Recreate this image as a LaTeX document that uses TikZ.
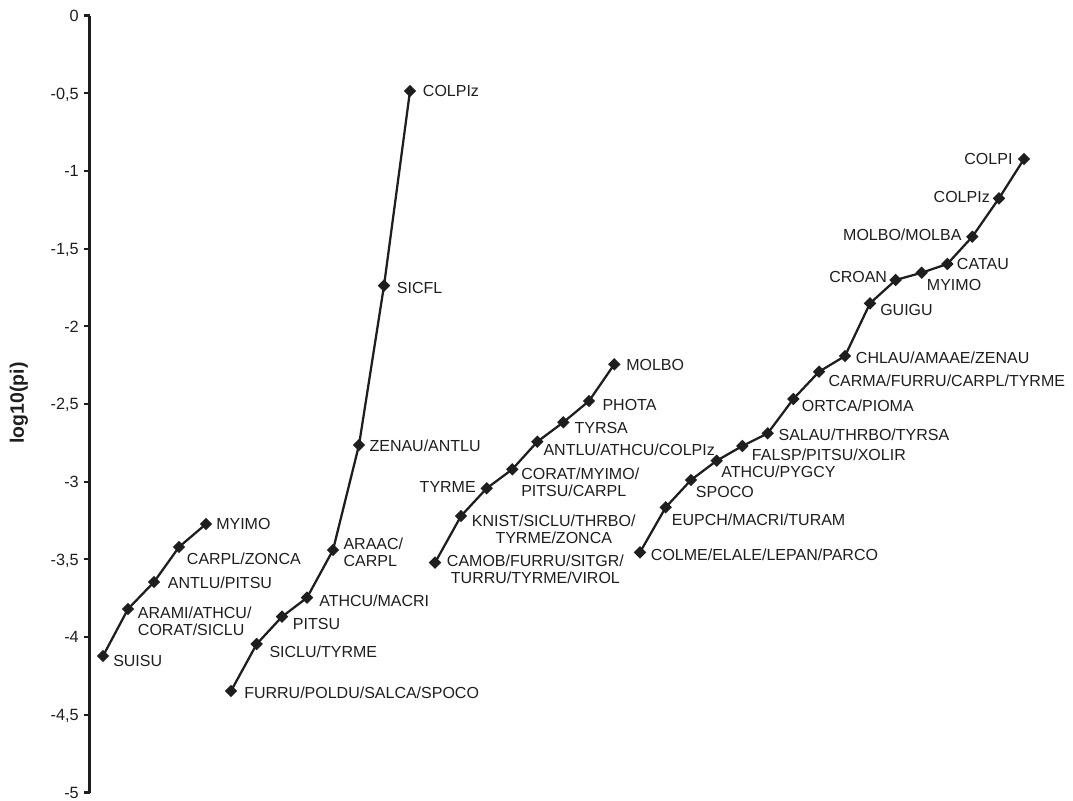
\documentclass[tikz,border=0pt]{standalone}
\usepackage{fontspec}
\setmainfont{Liberation Sans}
\usetikzlibrary{shapes.geometric}
\definecolor{ink}{HTML}{1E1E1E}
\begin{document}
\begin{tikzpicture}[x=0.75pt,y=-0.75pt,
  mk/.style={diamond, fill=ink, inner sep=0pt, minimum size=9.5pt},
  ln/.style={draw=ink, line width=1.7pt, line join=round},
  lbl/.style={anchor=north west, inner sep=0pt, font=\fontsize{12}{13}\selectfont, text=ink, align=left},
  lblr/.style={lbl, anchor=north east, align=right},
  lblc/.style={lbl, align=center},
  tick/.style={draw=ink, line width=1.6pt},
  ticklbl/.style={anchor=base east, inner sep=0pt, font=\fontsize{12.2}{14}\selectfont, text=ink}]
\useasboundingbox (0,0) rectangle (1073,800);

% axis
\coordinate (axtop) at (89.5,15.5);
\coordinate (axbot) at (89.5,792.5);
\draw[draw=ink, line width=2.1pt] (axtop) -- (axbot);
\foreach \k/\t in {0/0,1/{-0,5},2/-1,3/{-1,5},4/-2,5/{-2,5},6/-3,7/{-3,5},8/-4,9/{-4,5},10/-5}{
  \coordinate (tk\k) at (89.5,15.5+77.7*\k);
  \draw[tick] (tk\k) -- ++(-6,0);
  \node[ticklbl] (tl\k) at (79,21.3+77.7*\k) {\t};
}
\node[rotate=90, inner sep=0pt, font=\bfseries\fontsize{14.6}{16}\selectfont, text=ink] (ylab) at (19,403) {log10(pi)};

% series A
\coordinate (a1) at (103,656);
\coordinate (a2) at (128,609);
\coordinate (a3) at (154,582);
\coordinate (a4) at (179,547);
\coordinate (a5) at (206,524);
\draw[ln] (a1) -- (a2) -- (a3) -- (a4) -- (a5);
\foreach \p in {a1,a2,a3,a4,a5}{\node[mk] (m\p) at (\p) {};}
\node[lbl] (la1) at (113,655) {SUISU};
\node[lbl] (la2) at (137.7,606.6) {ARAMI/ATHCU/\\CORAT/SICLU};
\node[lbl] (la3) at (167.7,577) {ANTLU/PITSU};
\node[lbl] (la4) at (186.7,552.3) {CARPL/ZONCA};
\node[lbl] (la5) at (216,518.3) {MYIMO};

% series B
\coordinate (b1) at (231,691);
\coordinate (b2) at (256.7,644);
\coordinate (b3) at (282,616.7);
\coordinate (b4) at (307,597.7);
\coordinate (b5) at (333,550);
\coordinate (b6) at (359,445);
\coordinate (b7) at (384,285.7);
\coordinate (b8) at (410,91);
\draw[ln] (b1) -- (b2) -- (b3) -- (b4) -- (b5) -- (b6) -- (b7) -- (b8);
\foreach \p in {b1,b2,b3,b4,b5,b6,b7,b8}{\node[mk] (m\p) at (\p) {};}
\node[lbl] (lb1) at (244,686.3) {FURRU/POLDU/SALCA/SPOCO};
\node[lbl] (lb2) at (269.3,646) {SICLU/TYRME};
\node[lbl] (lb3) at (292.7,618.3) {PITSU};
\node[lbl] (lb4) at (319,594.3) {ATHCU/MACRI};
\node[lbl] (lb5) at (343.3,537.3) {ARAAC/\\CARPL};
\node[lbl] (lb6) at (369.3,440) {ZENAU/ANTLU};
\node[lbl] (lb7) at (396.7,281.6) {SICFL};
\node[lbl] (lb8) at (422.7,85.3) {COLPIz};

% series C
\coordinate (c1) at (435,562.7);
\coordinate (c2) at (461,516);
\coordinate (c3) at (486.7,488.3);
\coordinate (c4) at (512.3,469.3);
\coordinate (c5) at (537.3,441.7);
\coordinate (c6) at (563.3,422.3);
\coordinate (c7) at (589,401);
\coordinate (c8) at (614.3,364.3);
\draw[ln] (c1) -- (c2) -- (c3) -- (c4) -- (c5) -- (c6) -- (c7) -- (c8);
\foreach \p in {c1,c2,c3,c4,c5,c6,c7,c8}{\node[mk] (m\p) at (\p) {};}
\node[lblc] (lc1) at (446.7,554.3) {CAMOB/FURRU/SITGR/\\TURRU/TYRME/VIROL};
\node[lblc] (lc2) at (471.7,514.3) {KNIST/SICLU/THRBO/\\TYRME/ZONCA};
\node[lblr] (lc3) at (476,481) {TYRME};
\node[lbl] (lc4) at (521,467.6) {CORAT/MYIMO/\\PITSU/CARPL};
\node[lbl] (lc5) at (543.3,443.3) {ANTLU/ATHCU/COLPIz};
\node[lbl] (lc6) at (574.3,421.6) {TYRSA};
\node[lbl] (lc7) at (602.3,398.6) {PHOTA};
\node[lbl] (lc8) at (626,358.6) {MOLBO};

% series D
\coordinate (d1) at (640,552.3);
\coordinate (d2) at (665.7,507.3);
\coordinate (d3) at (691,480);
\coordinate (d4) at (716.7,460.7);
\coordinate (d5) at (742.3,446);
\coordinate (d6) at (767.7,433.3);
\coordinate (d7) at (793.3,399);
\coordinate (d8) at (819,371.7);
\coordinate (d9) at (845,356);
\coordinate (d10) at (870,303.3);
\coordinate (d11) at (895.7,280);
\coordinate (d12) at (921.7,272.7);
\coordinate (d13) at (947.3,264);
\coordinate (d14) at (972.3,236.7);
\coordinate (d15) at (999,198.3);
\coordinate (d16) at (1024,159);
\draw[ln] (d1) -- (d2) -- (d3) -- (d4) -- (d5) -- (d6) -- (d7) -- (d8) -- (d9) -- (d10) -- (d11) -- (d12) -- (d13) -- (d14) -- (d15) -- (d16);
\foreach \p in {d1,d2,d3,d4,d5,d6,d7,d8,d9,d10,d11,d12,d13,d14,d15,d16}{\node[mk] (m\p) at (\p) {};}
\node[lbl] (ld1) at (650.7,548.3) {COLME/ELALE/LEPAN/PARCO};
\node[lbl] (ld2) at (671.7,513.6) {EUPCH/MACRI/TURAM};
\node[lbl] (ld3) at (695.7,486) {SPOCO};
\node[lbl] (ld4) at (721,466) {ATHCU/PYGCY};
\node[lbl] (ld5) at (751.7,448.3) {FALSP/PITSU/XOLIR};
\node[lbl] (ld6) at (778.3,428.3) {SALAU/THRBO/TYRSA};
\node[lbl] (ld7) at (801.7,399.3) {ORTCA/PIOMA};
\node[lbl] (ld8) at (828.3,374.3) {CARMA/FURRU/CARPL/TYRME};
\node[lbl] (ld9) at (855.7,351.6) {CHLAU/AMAAE/ZENAU};
\node[lbl] (ld10) at (880,303.6) {GUIGU};
\node[lblr] (ld11) at (887.3,271) {CROAN};
\node[lbl] (ld12) at (926.7,278.6) {MYIMO};
\node[lbl] (ld13) at (956.7,257.6) {CATAU};
\node[lblr] (ld14) at (961.7,228.3) {MOLBO/MOLBA};
\node[lblr] (ld15) at (990,191) {COLPIz};
\node[lblr] (ld16) at (1012.7,152.6) {COLPI};
\end{tikzpicture}
\end{document}
